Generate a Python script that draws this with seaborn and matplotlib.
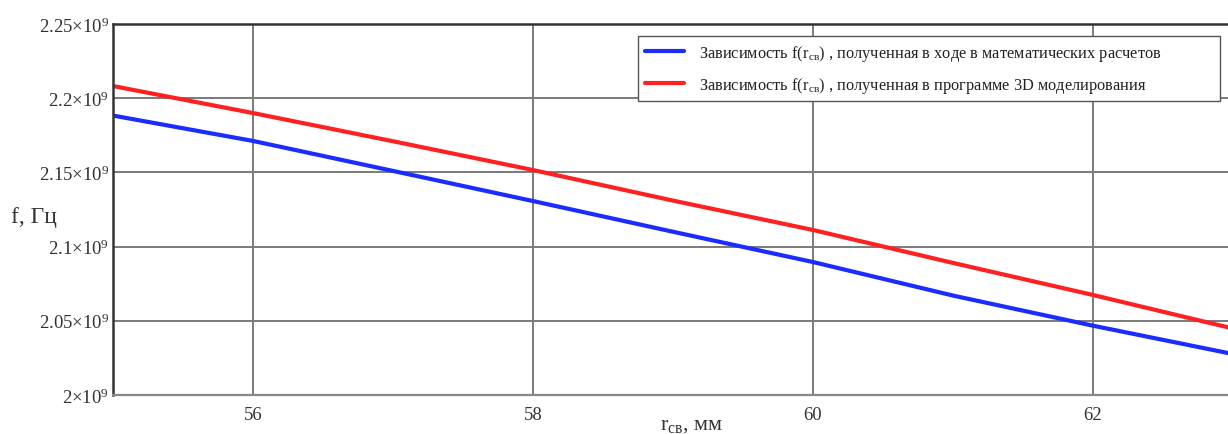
import matplotlib
matplotlib.use("Agg")
import matplotlib.pyplot as plt
from matplotlib.ticker import FuncFormatter, FixedLocator
import seaborn as sns
import pandas as pd

# data
r_mm = [55, 56, 57, 58, 59, 60, 61, 62, 63]
f_calc = [2.1883e9, 2.1712e9, 2.1510e9, 2.1307e9, 2.1100e9, 2.0896e9, 2.0670e9, 2.0467e9, 2.0276e9]
f_model = [2.2082e9, 2.1900e9, 2.1710e9, 2.1516e9, 2.1310e9, 2.1112e9, 2.0890e9, 2.0674e9, 2.0448e9]
label_calc = "Зависимость f(r$_{\\mathregular{св}}$) , полученная в ходе в математических расчетов"
label_model = "Зависимость f(r$_{\\mathregular{св}}$) , полученная в программе 3D моделирования"
y_ticks = [2.0e9, 2.05e9, 2.1e9, 2.15e9, 2.2e9, 2.25e9]
x_ticks = [56, 58, 60, 62]

df = pd.DataFrame({
    "r": r_mm * 2,
    "f": f_calc + f_model,
    "series": [label_calc] * len(r_mm) + [label_model] * len(r_mm),
})

sns.set_style("white")
plt.rcParams["font.family"] = ["Liberation Serif", "DejaVu Serif"]
plt.rcParams["mathtext.fontset"] = "custom"
plt.rcParams["mathtext.rm"] = "Liberation Serif"
plt.rcParams["mathtext.it"] = "Liberation Serif"
plt.rcParams["mathtext.bf"] = "Liberation Serif:bold"

fig = plt.figure(figsize=(12.28, 4.35), dpi=100)
ax = fig.add_axes([113/1228, 1 - 396/435, (1233 - 113)/1228, (396 - 25)/435])

sns.lineplot(data=df, x="r", y="f", hue="series",
             palette={label_calc: "#1a2cff", label_model: "#ff2020"},
             linewidth=3.0, ax=ax, legend=True)

ax.set_xlim(55, 63)
ax.set_ylim(2.0e9, 2.25e9)
ax.xaxis.set_major_locator(FixedLocator(x_ticks))
ax.yaxis.set_major_locator(FixedLocator(y_ticks))

def yfmt(v, pos):
    m = v / 1e9
    s = ("%.2f" % m).rstrip("0").rstrip(".")
    return r"$\mathregular{%s{\times}10^{9}}$" % s

ax.yaxis.set_major_formatter(FuncFormatter(yfmt))
ax.grid(True, color="#7a7a7a", linewidth=1.4)
ax.set_axisbelow(True)
for side in ["left", "top"]:
    ax.spines[side].set_color("#333333")
    ax.spines[side].set_linewidth(1.8)
ax.spines["bottom"].set_color("#888888")
ax.spines["bottom"].set_linewidth(1.6)
ax.spines["right"].set_visible(False)

ax.tick_params(axis="both", labelsize=13.5, colors="#333333", labelcolor="#333333")
ax.tick_params(axis="x", direction="in", length=5, pad=8)
ax.tick_params(axis="y", length=0, pad=3)

ax.set_xlabel("")
ax.set_ylabel("")
fig.text(11/1228, 1 - 217/435, "f, Гц", fontsize=17, color="#333333", va="center", ha="left")
fig.text(660/1228, 1 - 426/435, r"r$_{\mathregular{св}}$, мм", fontsize=16, color="#333333",
         va="center", ha="left")

handles, labels = ax.get_legend_handles_labels()
leg = ax.legend(handles, labels, loc="upper left", mode="expand",
                bbox_to_anchor=(638/1228, 1 - 100/435, (1220 - 638)/1228, 63/435),
                bbox_transform=fig.transFigure,
                fontsize=11.8, frameon=True, fancybox=False, framealpha=1,
                edgecolor="#555555", handlelength=2.4, handletextpad=0.9,
                labelspacing=0.75, borderpad=0.4, borderaxespad=0, title=None)
leg.get_frame().set_linewidth(1.0)
for line in leg.get_lines():
    line.set_linewidth(3.0)
for t in leg.get_texts():
    t.set_color("#222222")

fig.savefig("out.png", dpi=100)
